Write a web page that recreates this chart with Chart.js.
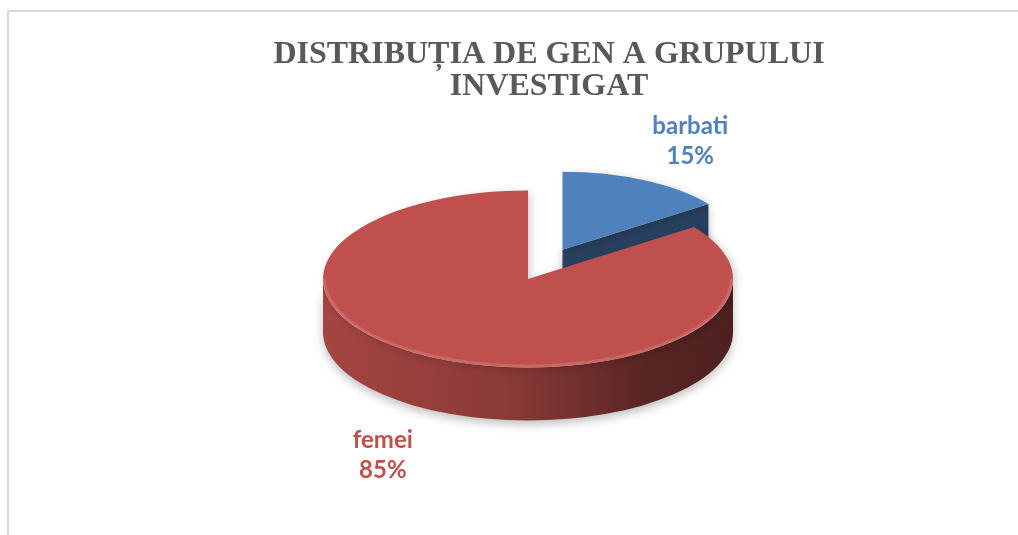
<!DOCTYPE html>
<html>
<head>
<meta charset="utf-8">
<script src="https://cdn.jsdelivr.net/npm/chart.js@4.4.1/dist/chart.umd.min.js"></script>
<style>
  html, body { margin: 0; padding: 0; background: #fff; }
  #frame {
    position: absolute; left: 7px; top: 10px; width: 1011px; height: 525px;
    border-top: 2px solid #d9d9d9; border-left: 2px solid #d9d9d9; box-sizing: border-box;
  }
  #chart { position: absolute; left: 0; top: 0; }
</style>
</head>
<body>
<div id="frame"></div>
<canvas id="chart" width="1018" height="535"></canvas>
<script>
// data
const categories = ['barbati', 'femei'];
const percentages = [15, 85];
const titleLines = ['DISTRIBUȚIA DE GEN A GRUPULUI', 'INVESTIGAT'];

// look
const sliceColors = ['#4f81bd', '#c0504d'];
const TILT = 0.432;       // vertical squash of the pie
const DEPTH = 53;         // thickness of the pie (px)
const EXPLODE = 76;       // pull-out of the first slice
const BACK_SCALE = 0.88;  // the pulled-out slice sits further back

function shade(hex, f) {
    const n = parseInt(hex.slice(1), 16);
    const r = Math.round(((n >> 16) & 255) * f);
    const g = Math.round(((n >> 8) & 255) * f);
    const b = Math.round((n & 255) * f);
    return `rgb(${r},${g},${b})`;
}

// geometry of one slice on screen (after the squash)
function geom(chart, arc) {
    const area = chart.chartArea;
    const cy = (area.top + area.bottom) / 2;
    const full = chart.getDatasetMeta(0).controller.outerRadius;
    return {
        x: arc.x,
        y: cy + (arc.y - cy) * TILT,
        r: arc.outerRadius,
        ry: arc.outerRadius * TILT,
        d: DEPTH * arc.outerRadius / full
    };
}

function drawSides(ctx, g, arc, color) {
    const a0 = arc.startAngle, a1 = arc.endAngle;
    ctx.save();
    ctx.shadowColor = 'rgba(0,0,0,0.25)';
    ctx.shadowBlur = 10;
    ctx.shadowOffsetY = 4;

    // radial faces that look towards the viewer
    [[a0, -Math.cos(a0)], [a1, Math.cos(a1)]].forEach(([a, facing]) => {
        if (facing <= 0.01) return;
        const ox = g.x + Math.cos(a) * g.r, oy = g.y + Math.sin(a) * g.ry;
        ctx.beginPath();
        ctx.moveTo(g.x, g.y);
        ctx.lineTo(ox, oy);
        ctx.lineTo(ox, oy + g.d);
        ctx.lineTo(g.x, g.y + g.d);
        ctx.closePath();
        ctx.fillStyle = shade(color, 0.5);
        ctx.fill();
    });

    // outer wall on the front half
    for (let n = -1; n <= 1; n++) {
        const lo = Math.max(a0, n * 2 * Math.PI);
        const hi = Math.min(a1, n * 2 * Math.PI + Math.PI);
        if (hi <= lo) continue;
        const grad = ctx.createLinearGradient(g.x - g.r, 0, g.x + g.r, 0);
        grad.addColorStop(0, shade(color, 0.86));
        grad.addColorStop(0.45, shade(color, 0.72));
        grad.addColorStop(0.8, shade(color, 0.46));
        grad.addColorStop(1, shade(color, 0.4));
        ctx.beginPath();
        ctx.ellipse(g.x, g.y, g.r, g.ry, 0, lo, hi);
        ctx.ellipse(g.x, g.y + g.d, g.r, g.ry, 0, hi, lo, true);
        ctx.closePath();
        ctx.fillStyle = grad;
        ctx.fill();
    }
    ctx.restore();
}

const pie3d = {
    id: 'pie3d',
    afterDatasetUpdate(chart, args) {
        const arc = args.meta.data[0];
        const mid = (arc.startAngle + arc.endAngle) / 2;
        arc.x += Math.cos(mid) * EXPLODE;
        arc.y += Math.sin(mid) * EXPLODE;
        arc.outerRadius *= BACK_SCALE;
    },
    beforeDatasetsDraw(chart) {
        const ctx = chart.ctx;
        const arcs = chart.getDatasetMeta(0).data;
        arcs.forEach((arc, i) => drawSides(ctx, geom(chart, arc), arc, sliceColors[i]));
        const area = chart.chartArea;
        const cy = (area.top + area.bottom) / 2;
        ctx.save();
        ctx.shadowColor = 'rgba(0,0,0,0.18)';
        ctx.shadowBlur = 8;
        ctx.shadowOffsetX = 3;
        ctx.shadowOffsetY = 2;
        ctx.translate(0, cy);
        ctx.scale(1, TILT);
        ctx.translate(0, -cy);
    },
    afterDatasetsDraw(chart) {
        const ctx = chart.ctx;
        ctx.restore();
        const arcs = chart.getDatasetMeta(0).data;

        // soft highlight on the front rim
        arcs.forEach(arc => {
            const g = geom(chart, arc);
            const lo = Math.max(arc.startAngle, 0), hi = Math.min(arc.endAngle, Math.PI);
            if (hi <= lo) return;
            ctx.save();
            ctx.beginPath();
            ctx.ellipse(g.x, g.y, g.r - 1.5, g.ry - 1.5, 0, lo, hi);
            ctx.strokeStyle = 'rgba(255,255,255,0.14)';
            ctx.lineWidth = 3;
            ctx.stroke();
            ctx.restore();
        });

        // data labels
        ctx.save();
        ctx.font = 'bold 24px Lato';
        ctx.textAlign = 'center';
        ctx.textBaseline = 'middle';
        arcs.forEach((arc, i) => {
            const g = geom(chart, arc);
            const mid = (arc.startAngle + arc.endAngle) / 2;
            const f = 1.56;
            const lx = g.x + Math.cos(mid) * g.r * f;
            const ly = g.y + Math.sin(mid) * g.ry * f + (Math.sin(mid) > 0 ? g.d : 0);
            ctx.fillStyle = sliceColors[i];
            ctx.fillText(categories[i], lx, ly - 15);
            ctx.fillText(percentages[i] + '%', lx, ly + 15);
        });
        ctx.restore();
    },
    afterDraw(chart) {
        const ctx = chart.ctx;
        ctx.save();
        ctx.font = 'bold 32px "Liberation Serif"';
        ctx.fillStyle = '#595959';
        ctx.textAlign = 'center';
        ctx.textBaseline = 'middle';
        titleLines.forEach((line, i) => ctx.fillText(line, 549, 55 + i * 32));
        ctx.restore();
    }
};

new Chart(document.getElementById('chart'), {
    type: 'pie',
    data: {
        labels: categories,
        datasets: [{
            data: percentages,
            backgroundColor: sliceColors,
            borderWidth: 0,
            hoverOffset: 0,
            clip: false
        }]
    },
    options: {
        responsive: false,
        animation: false,
        events: [],
        radius: 205,
        layout: { padding: { left: 38, right: 0, top: 100, bottom: 77 } },
        plugins: {
            legend: { display: false },
            tooltip: { enabled: false },
            title: { display: false }
        }
    },
    plugins: [pie3d]
});
</script>
</body>
</html>
